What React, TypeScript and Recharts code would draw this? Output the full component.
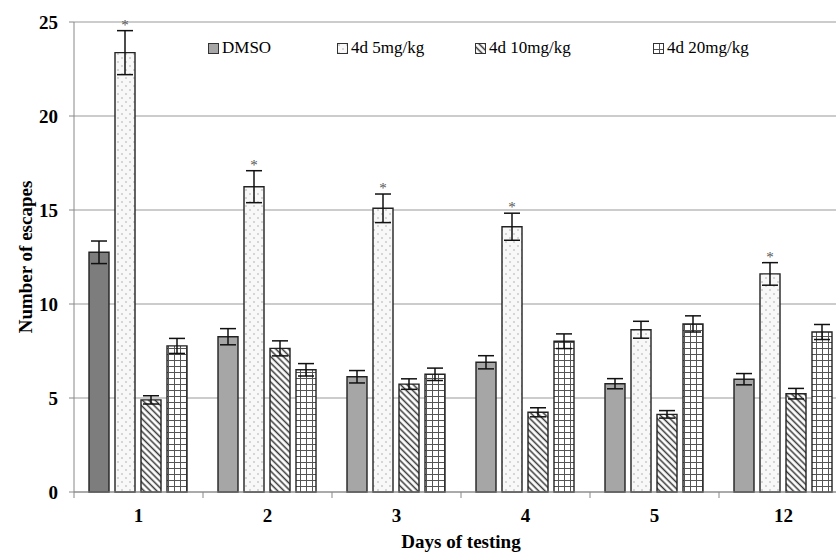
import React from 'react';
import {
  BarChart,
  Bar,
  XAxis,
  YAxis,
  CartesianGrid,
  ErrorBar,
  LabelList,
  Label,
  Cell,
} from 'recharts';

const days = ['1', '2', '3', '4', '5', '12'];
const seriesNames = ['DMSO', '4d 5mg/kg', '4d 10mg/kg', '4d 20mg/kg'];

const dmso = [12.75, 8.26, 6.13, 6.9, 5.76, 6.0];
const dmsoErr = [0.6, 0.43, 0.33, 0.35, 0.27, 0.3];
const mg5 = [23.37, 16.24, 15.09, 14.11, 8.63, 11.6];
const mg5Err = [1.17, 0.85, 0.76, 0.72, 0.45, 0.6];
const mg10 = [4.9, 7.64, 5.74, 4.24, 4.13, 5.23];
const mg10Err = [0.22, 0.4, 0.28, 0.24, 0.2, 0.28];
const mg20 = [7.77, 6.5, 6.26, 8.02, 8.94, 8.51];
const mg20Err = [0.4, 0.33, 0.33, 0.39, 0.43, 0.4];
const significant = [true, true, true, true, false, true];

const yTicks = [0, 5, 10, 15, 20, 25];

const data = days.map((day, i) => ({
  day,
  dmso: dmso[i],
  dmsoErr: dmsoErr[i],
  mg5: mg5[i],
  mg5Err: mg5Err[i],
  mg10: mg10[i],
  mg10Err: mg10Err[i],
  mg20: mg20[i],
  mg20Err: mg20Err[i],
}));

const FONT = '"Liberation Serif", "Times New Roman", serif';
const FILLS = ['#a6a6a6', 'url(#dots)', 'url(#hatch)', 'url(#grid)'];
const OUTLINE = '#222';
// left edge of each legend entry, px from the chart's left
const LEGEND_LEFT = [208, 337, 475, 653];
const X_TICK_MARGIN = 17;

const Patterns = () => (
  <svg width={0} height={0} style={{ position: 'absolute' }}>
    <defs>
      <pattern id="dots" width={8} height={8} patternUnits="userSpaceOnUse">
        <rect width={8} height={8} fill="#f8f8f8" />
        <circle cx={2} cy={2} r={0.7} fill="#999" />
        <circle cx={6} cy={6} r={0.7} fill="#999" />
      </pattern>
      <pattern id="hatch" width={4.5} height={4.5} patternUnits="userSpaceOnUse" patternTransform="rotate(45)">
        <rect width={4.5} height={4.5} fill="#fff" />
        <line x1={0} y1={2.25} x2={4.5} y2={2.25} stroke="#333" strokeWidth={1.5} />
      </pattern>
      <pattern id="grid" width={6} height={6} patternUnits="userSpaceOnUse">
        <rect width={6} height={6} fill="#fff" />
        <line x1={0.5} y1={0} x2={0.5} y2={6} stroke="#555" strokeWidth={1} />
        <line x1={0} y1={0.5} x2={6} y2={0.5} stroke="#555" strokeWidth={1} />
      </pattern>
    </defs>
  </svg>
);

const Star = (props: any) => {
  const { x, y, width, height, value, index } = props;
  if (!significant[index]) return null;
  const top = y - (mg5Err[index] * height) / value;
  return (
    <text x={x + width / 2} y={top - 1} textAnchor="middle" fontSize={15} fill="#555" fontFamily={FONT}>
      *
    </text>
  );
};

// category label plus a small tick mark at the left edge of the band
const DayTick = (props: any) => {
  const { x, y, payload, width, visibleTicksCount } = props;
  const band = width / visibleTicksCount;
  const axisY = y - X_TICK_MARGIN;
  return (
    <g>
      <line x1={x - band / 2} y1={axisY} x2={x - band / 2} y2={axisY + 6} stroke="#888" />
      <text
        x={x}
        y={y}
        dy="0.71em"
        textAnchor="middle"
        fontSize={19}
        fontWeight="bold"
        fontFamily={FONT}
        fill="#000"
      >
        {payload.value}
      </text>
    </g>
  );
};

const YTitle = (props: any) => {
  const { viewBox } = props;
  const x = viewBox.x + 11;
  const y = viewBox.y + viewBox.height / 2;
  return (
    <text
      x={x}
      y={y}
      transform={`rotate(-90, ${x}, ${y})`}
      textAnchor="middle"
      dominantBaseline="central"
      fontSize={19}
      fontWeight="bold"
      fontFamily={FONT}
      fill="#000"
    >
      Number of escapes
    </text>
  );
};

const LegendBox = () => (
  <>
    {seriesNames.map((name, i) => (
      <div
        key={name}
        style={{
          position: 'absolute',
          top: 38,
          left: LEGEND_LEFT[i],
          display: 'flex',
          alignItems: 'center',
          fontFamily: FONT,
          fontSize: 17,
          whiteSpace: 'nowrap',
        }}
      >
        <svg width={11} height={11} style={{ marginRight: 3 }}>
          <rect x={0.5} y={0.5} width={10} height={10} fill={FILLS[i]} stroke="#333" strokeWidth={1} />
        </svg>
        <span>{name}</span>
      </div>
    ))}
  </>
);

const tickStyle = { fontSize: 19, fontWeight: 'bold', fill: '#000', fontFamily: FONT };

export default function App() {
  return (
    <div
      style={{
        position: 'absolute',
        left: 0,
        top: 0,
        width: 836,
        height: 556,
        overflow: 'hidden',
        background: '#fff',
      }}
    >
      <Patterns />
      <BarChart
        width={860}
        height={556}
        data={data}
        margin={{ top: 22, right: 12, bottom: 0, left: 14 }}
        barCategoryGap={15}
        barGap={6}
      >
        <CartesianGrid vertical={false} stroke="#999" />
        <XAxis
          dataKey="day"
          height={64}
          interval={0}
          tickLine={false}
          tickSize={0}
          tickMargin={X_TICK_MARGIN}
          axisLine={{ stroke: '#888' }}
          tick={<DayTick />}
        >
          <Label
            value="Days of testing"
            position="insideBottom"
            offset={8}
            style={{ fontSize: 19, fontWeight: 'bold', fill: '#000', fontFamily: FONT }}
          />
        </XAxis>
        <YAxis
          width={60}
          domain={[0, 25]}
          ticks={yTicks}
          interval={0}
          tickSize={5}
          tickMargin={11}
          tickLine={{ stroke: '#888' }}
          axisLine={{ stroke: '#888' }}
          tick={tickStyle}
        >
          <Label content={YTitle} />
        </YAxis>
        <Bar dataKey="dmso" name={seriesNames[0]} fill={FILLS[0]} stroke={OUTLINE} strokeWidth={1.4} isAnimationActive={false}>
          {data.map((_, i) => (
            <Cell key={i} fill={i === 0 ? '#7d7d7d' : FILLS[0]} />
          ))}
          <ErrorBar dataKey="dmsoErr" width={8} stroke="#111" strokeWidth={1.5} />
        </Bar>
        <Bar dataKey="mg5" name={seriesNames[1]} fill={FILLS[1]} stroke={OUTLINE} strokeWidth={1.4} isAnimationActive={false}>
          <ErrorBar dataKey="mg5Err" width={8} stroke="#111" strokeWidth={1.5} />
          <LabelList dataKey="mg5" content={Star} />
        </Bar>
        <Bar dataKey="mg10" name={seriesNames[2]} fill={FILLS[2]} stroke={OUTLINE} strokeWidth={1.4} isAnimationActive={false}>
          <ErrorBar dataKey="mg10Err" width={8} stroke="#111" strokeWidth={1.5} />
        </Bar>
        <Bar dataKey="mg20" name={seriesNames[3]} fill={FILLS[3]} stroke={OUTLINE} strokeWidth={1.4} isAnimationActive={false}>
          <ErrorBar dataKey="mg20Err" width={8} stroke="#111" strokeWidth={1.5} />
        </Bar>
      </BarChart>
      <LegendBox />
    </div>
  );
}
